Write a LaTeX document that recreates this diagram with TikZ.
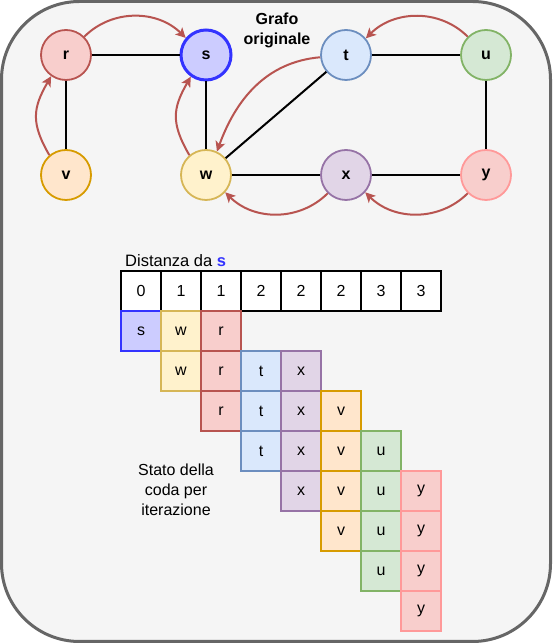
\documentclass[tikz,border=0pt]{standalone}
\usepackage{fontspec}
\setmainfont{Liberation Sans}
\usetikzlibrary{arrows.meta}
\definecolor{fillr}{HTML}{F8CECC}\definecolor{liner}{HTML}{B85450}
\definecolor{fills}{HTML}{CCCCFF}\definecolor{lines}{HTML}{3333FF}
\definecolor{fillt}{HTML}{DAE8FC}\definecolor{linet}{HTML}{6C8EBF}
\definecolor{fillu}{HTML}{D5E8D4}\definecolor{lineu}{HTML}{82B366}
\definecolor{fillv}{HTML}{FFE6CC}\definecolor{linev}{HTML}{D79B00}
\definecolor{fillw}{HTML}{FFF2CC}\definecolor{linew}{HTML}{D6B656}
\definecolor{fillx}{HTML}{E1D5E7}\definecolor{linex}{HTML}{9673A6}
\definecolor{filly}{HTML}{F8CECC}\definecolor{liney}{HTML}{FF9999}
\definecolor{framec}{HTML}{666666}\definecolor{bgc}{HTML}{F5F5F5}
\begin{document}
\begin{tikzpicture}[x=1pt,y=1pt,
  vert/.style={circle, minimum size=50pt, inner sep=0pt, line width=1.8pt, font=\fontsize{16}{19}\selectfont\bfseries},
  cell/.style={rectangle, minimum size=40pt, inner sep=0pt, line width=2pt, font=\fontsize{16}{19}\selectfont},
  edge/.style={line width=2pt},
  arr/.style={line width=2pt, draw=liner, -{Stealth[length=10pt,width=10pt,inset=2.5pt]}}]
\useasboundingbox (0,0) rectangle (553,644);
\draw[line width=3pt, draw=framec, fill=bgc, rounded corners=78pt] (1.5,2.5) rectangle (550.5,642.5);
% graph
\node[vert, fill=fillr, draw=liner] (r) at (66,589) {r};
\node[vert, fill=fills, draw=lines, line width=3pt] (s) at (206,589) {s};
\node[vert, fill=fillt, draw=linet] (t) at (346,589) {t};
\node[vert, fill=fillu, draw=lineu] (u) at (486,589) {u};
\node[vert, fill=fillv, draw=linev] (v) at (66,469) {v};
\node[vert, fill=fillw, draw=linew] (w) at (206,469) {w};
\node[vert, fill=fillx, draw=linex] (x) at (346,469) {x};
\node[vert, fill=filly, draw=liney] (y) at (486,469) {y};
\node[font=\fontsize{16}{20}\selectfont\bfseries, align=center] (title) at (277,614) {Grafo\\originale};
\draw[edge] (r) -- (s);
\draw[edge] (r) -- (v);
\draw[edge] (s) -- (w);
\draw[edge] (t) -- (u);
\draw[edge] (u) -- (y);
\draw[edge] (w) -- (x);
\draw[edge] (x) -- (y);
\draw[edge] (w) -- (t);
\draw[arr] (r.45) to[out=45,in=135] (s.140);
\draw[arr] (u.135) to[out=135,in=45] (t.40);
\draw[arr] (v.130) to[out=120,in=240,looseness=1.2] (r.235);
\draw[arr] (w.130) to[out=120,in=240,looseness=1.2] (s.235);
\draw[arr] (t.185) to[out=185,in=70] (w.65);
\draw[arr] (x.225) to[out=225,in=-45] (w.-42);
\draw[arr] (y.225) to[out=225,in=-45] (x.-42);
% distances
\node[anchor=west, inner sep=0pt, font=\fontsize{16.5}{19}\selectfont] (dist) at (125,383) {Distanza da \textcolor{lines}{\bfseries s}};
\foreach \v [count=\i from 0] in {0,1,1,2,2,2,3,3}
  \node[cell, fill=white, draw=black] (d\i) at ({141+40*\i},353) {\v};
% queue
\foreach \r/\c/\l in {1/0/s,1/1/w,1/2/r,
  2/1/w,2/2/r,2/3/t,2/4/x,
  3/2/r,3/3/t,3/4/x,3/5/v,
  4/3/t,4/4/x,4/5/v,4/6/u,
  5/4/x,5/5/v,5/6/u,5/7/y,
  6/5/v,6/6/u,6/7/y,
  7/6/u,7/7/y,
  8/7/y}
  \node[cell, fill=fill\l, draw=line\l] (q\r-\c) at ({141+40*\c},{353-40*\r}) {\l};
\node[align=center, font=\fontsize{16}{20}\selectfont] (stato) at (176,154) {Stato della\\coda per\\iterazione};
\end{tikzpicture}
\end{document}
